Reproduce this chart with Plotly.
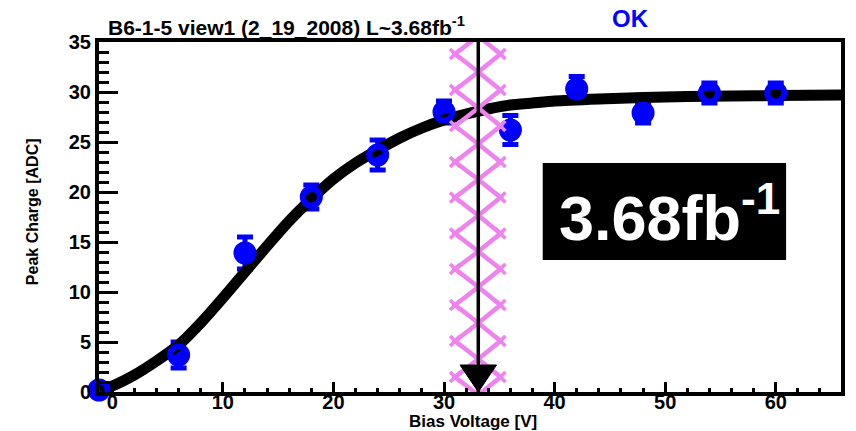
import plotly.graph_objects as go

# ---------------- data ----------------
bias_voltage = [-1.2, 6, 12, 18, 24, 30, 36, 42, 48, 54, 60]
peak_charge = [0.2, 3.7, 13.9, 19.5, 23.7, 28.0, 26.2, 30.3, 27.9, 29.9, 29.9]
peak_charge_err = [0.5, 1.3, 1.6, 1.2, 1.5, 1.1, 1.45, 1.25, 1.0, 1.0, 1.0]

fit_x = [-1.1, 0, 2, 4, 6, 8, 10, 12, 14, 16, 18, 20, 22, 24, 26, 28, 30, 32, 34, 36, 38, 40, 44, 48, 52, 56, 60, 66]
fit_y = [0.2, 0.6, 1.7, 3.1, 4.7, 6.9, 9.4, 12.0, 14.6, 17.1, 19.3, 21.3, 22.9, 24.2, 25.4, 26.4, 27.2, 27.8, 28.3, 28.7, 28.9, 29.1, 29.3, 29.45, 29.55, 29.6, 29.65, 29.7]

breakdown_v = 33.1
hatch_left = 31.0
hatch_right = 35.1
hatch_y_cross = [-0.3, 3.3, 6.9, 10.5, 14.05, 17.65, 21.25, 24.8, 28.4, 32.0, 35.6]
hatch_y_vertex = [1.5, 5.1, 8.7, 12.3, 15.85, 19.45, 23.0, 26.6, 30.2, 33.8]

x_ticks = [0, 10, 20, 30, 40, 50, 60]
y_ticks = [0, 5, 10, 15, 20, 25, 30, 35]

title_text = "B6-1-5 view1 (2_19_2008) L~3.68fb<sup>-1</sup>"
status_text = "OK"
lumi_text = "3.68fb<sup>-1</sup>"
x_title = "Bias Voltage [V]"
y_title = "Peak Charge [ADC]"

# ---------------- style ----------------
FONT = "Liberation Sans, Arial, sans-serif"
PINK = "#EE82EE"
BLUE = "#0000FF"
ARROW_HALF_W = 1.65
ARROW_H = 2.7

fig = go.Figure()

# filled markers with error bars (under the fit curve)
fig.add_trace(go.Scatter(
    x=bias_voltage, y=peak_charge, mode="markers",
    marker=dict(symbol="circle", size=22, color=BLUE, line=dict(width=0)),
    error_y=dict(type="data", array=peak_charge_err, color=BLUE, thickness=5, width=8),
    cliponaxis=False, hoverinfo="skip"))

# fit curve
fig.add_trace(go.Scatter(
    x=fit_x, y=fit_y, mode="lines",
    line=dict(color="black", width=11, shape="spline", smoothing=0.6),
    hoverinfo="skip"))

# marker rings on top of curve
fig.add_trace(go.Scatter(
    x=bias_voltage, y=peak_charge, mode="markers",
    marker=dict(symbol="circle-open", size=17, color=BLUE, line=dict(width=6, color=BLUE)),
    cliponaxis=False, hoverinfo="skip"))

# pink hatched band (diamond zig-zags)
left_x, left_y, right_x, right_y = [], [], [], []
for i, yc in enumerate(hatch_y_cross):
    left_x.append(breakdown_v); left_y.append(yc)
    right_x.append(breakdown_v); right_y.append(yc)
    if i < len(hatch_y_vertex):
        left_x.append(hatch_left); left_y.append(hatch_y_vertex[i])
        right_x.append(hatch_right); right_y.append(hatch_y_vertex[i])
for zx, zy in ((left_x, left_y), (right_x, right_y)):
    fig.add_trace(go.Scatter(x=zx, y=zy, mode="lines",
                             line=dict(color=PINK, width=4.5), hoverinfo="skip"))
fig.add_trace(go.Scatter(
    x=[hatch_left] * len(hatch_y_vertex) + [hatch_right] * len(hatch_y_vertex),
    y=hatch_y_vertex + hatch_y_vertex, mode="markers",
    marker=dict(symbol="x-thin", size=10, line=dict(color=PINK, width=3.5)),
    hoverinfo="skip"))

# vertical line with arrow
fig.add_trace(go.Scatter(x=[breakdown_v, breakdown_v], y=[0, 35], mode="lines",
                         line=dict(color="black", width=3.5), hoverinfo="skip"))
fig.add_trace(go.Scatter(
    x=[breakdown_v - ARROW_HALF_W, breakdown_v + ARROW_HALF_W, breakdown_v, breakdown_v - ARROW_HALF_W],
    y=[ARROW_H, ARROW_H, 0, ARROW_H], mode="lines", fill="toself",
    fillcolor="black", line=dict(color="black", width=1), hoverinfo="skip"))

axis_common = dict(
    showgrid=False, zeroline=False, showline=True, linewidth=4, linecolor="black",
    mirror=True, ticks="inside", tickcolor="black", tickwidth=3,
    tickfont=dict(family=FONT, size=20, color="black", weight="bold"),
)

fig.update_layout(
    width=856, height=431,
    margin=dict(l=99, r=11, t=42, b=39),
    paper_bgcolor="white", plot_bgcolor="white",
    showlegend=False,
    xaxis=dict(range=[-1.2, 65.9], tickmode="array", tickvals=x_ticks, ticklen=10,
               ticklabelstandoff=-11,
               minor=dict(ticks="inside", ticklen=4, tickwidth=3, dtick=2, tick0=0,
                          tickcolor="black", showgrid=False),
               **axis_common),
    yaxis=dict(range=[0, 35], tickmode="array", tickvals=y_ticks, ticklen=19,
               minor=dict(ticks="inside", ticklen=10, tickwidth=3, dtick=1, tick0=0,
                          tickcolor="black", showgrid=False),
               **axis_common),
    shapes=[dict(type="rect", xref="paper", yref="paper", x0=0.598, x1=0.926,
                 y0=0.377, y1=0.654, fillcolor="black", line=dict(width=0), layer="above")],
    annotations=[
        dict(text=title_text, xref="paper", yref="paper", x=0.0094, y=1.046,
             xanchor="left", yanchor="middle", showarrow=False,
             font=dict(family=FONT, size=21, color="black", weight="bold")),
        dict(text=status_text, xref="paper", yref="paper", x=0.716, y=1.067,
             xanchor="center", yanchor="middle", showarrow=False,
             font=dict(family=FONT, size=24, color=BLUE, weight="bold")),
        dict(text=x_title, xref="paper", yref="paper", x=0.504, y=-0.083,
             xanchor="center", yanchor="middle", showarrow=False,
             font=dict(family=FONT, size=17, color="black", weight="bold")),
        dict(text=y_title, xref="paper", yref="paper", x=-0.0902, y=0.514,
             xanchor="center", yanchor="middle", showarrow=False, textangle=-90,
             font=dict(family=FONT, size=16, color="black", weight="bold")),
        dict(text=lumi_text, xref="paper", yref="paper", x=0.769, y=0.509,
             xanchor="center", yanchor="middle", showarrow=False,
             font=dict(family=FONT, size=63, color="white", weight="bold")),
    ],
)

fig.write_html("out.html")
